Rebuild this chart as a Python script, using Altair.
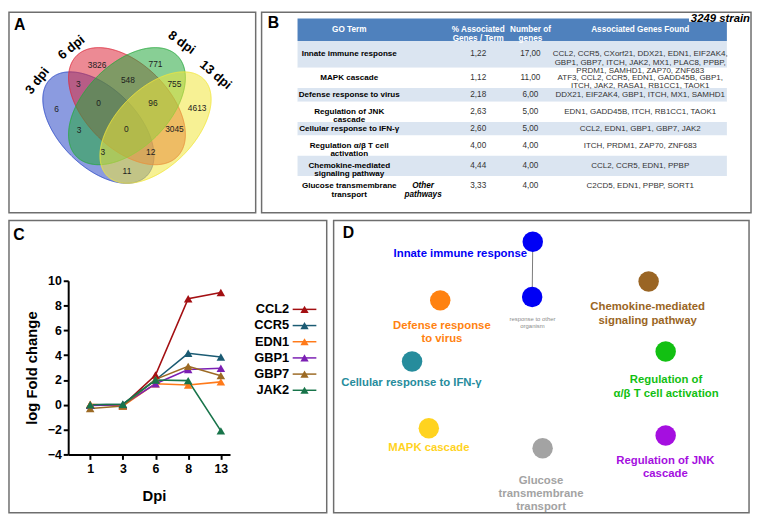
import altair as alt
import numpy as np
import pandas as pd

FONT = "Liberation Sans"
FRAME = "#6e6e6e"

# ---------------- A: Venn diagram ----------------
venn_sets = ["3 dpi", "6 dpi", "8 dpi", "13 dpi"]
venn_colors = ["#2c49c6", "#dc2a3c", "#27a83e", "#f1e63c"]
venn_counts = [3826, 771, 3, 548, 755, 6, 0, 96, 4613, 3, 0, 3045, 3, 12, 11]
# layout of the diagram (figure pixels)
ell_cx = [94.7, 124.0, 124.0, 153.3]
ell_cy = [120.9, 99.0, 99.0, 120.9]
ell_a = [70.0, 73.0, 73.0, 70.0]
ell_b = [40.0, 43.0, 43.0, 40.0]
ell_rot = [45.0, 45.0, -45.0, -45.0]
venn_lx = [93.3, 153.3, 74.0, 125.0, 172.7, 51.7, 95.0, 150.7, 196.0, 75.0, 123.3, 172.7, 99.3, 148.3, 124.0]
venn_ly = [56.7, 55.7, 76.7, 72.3, 76.0, 101.7, 95.7, 96.0, 101.0, 123.3, 122.7, 122.3, 145.7, 145.7, 165.7]
set_lx = [32, 67, 180, 215]
set_ly = [73, 39, 34, 67]
set_ang = [308, 321, 36, 40]

# ---------------- B: GO table ----------------
table_header = ["GO Term", "% Associated\nGenes / Term", "Number of\ngenes", "Associated Genes Found"]
go_terms = ["Innate immune response", "MAPK cascade", "Defense response to virus",
            "Regulation of JNK\ncascade", "Cellular response to IFN-γ",
            "Regulation α/β T cell\nactivation", "Chemokine-mediated\nsignaling pathway",
            "Glucose transmembrane\ntransport"]
go_pct = [1.22, 1.12, 2.18, 2.63, 2.60, 4.00, 4.44, 3.33]
go_n = [17, 11, 6, 5, 5, 4, 4, 4]
go_genes = ["CCL2, CCR5, CXorf21, DDX21, EDN1, EIF2AK4,\nGBP1, GBP7, ITCH, JAK2, MX1, PLAC8, PPBP,\nPRDM1, SAMHD1, ZAP70, ZNF683",
            "ATF3, CCL2, CCR5, EDN1, GADD45B, GBP1,\nITCH, JAK2, RASA1, RB1CC1, TAOK1",
            "DDX21, EIF2AK4, GBP1, ITCH, MX1, SAMHD1",
            "EDN1, GADD45B, ITCH, RB1CC1, TAOK1",
            "CCL2, EDN1, GBP1, GBP7, JAK2",
            "ITCH, PRDM1, ZAP70, ZNF683",
            "CCL2, CCR5, EDN1, PPBP",
            "C2CD5, EDN1, PPBP, SORT1"]
go_note = ["", "", "", "", "", "", "", "Other\npathways"]
strain_label = "3249 strain"

# ---------------- C: log fold change ----------------
dpi_labels = ["1", "3", "6", "8", "13"]
genes_c = ["CCL2", "CCR5", "EDN1", "GBP1", "GBP7", "JAK2"]
gene_colors = ["#a30f12", "#1b5b73", "#ff7a1a", "#7b1fb3", "#9c6a24", "#18744a"]
lfc_ccl2 = [0.0, -0.05, 2.4, 8.55, 9.05]
lfc_ccr5 = [0.0, 0.05, 2.0, 4.15, 3.85]
lfc_edn1 = [0.05, -0.1, 1.7, 1.6, 1.85]
lfc_gbp1 = [-0.05, 0.0, 1.7, 2.85, 2.95]
lfc_gbp7 = [-0.3, -0.1, 2.05, 3.1, 2.35]
lfc_jak2 = [0.0, 0.05, 2.0, 1.95, -2.1]
lfc_all = [lfc_ccl2, lfc_ccr5, lfc_edn1, lfc_gbp1, lfc_gbp7, lfc_jak2]

# ---------------- D: GO network ----------------
net_terms = ["Innate immune response", "response to other\norganism", "Defense response\nto virus",
             "Chemokine-mediated\nsignaling pathway", "Cellular response to IFN-γ",
             "Regulation of\nα/β T cell activation", "MAPK cascade",
             "Glucose\ntransmembrane\ntransport", "Regulation of JNK\ncascade"]
net_colors = ["#0000f5", "#0000f5", "#ff8210", "#9a6524", "#268c9c", "#12c012",
              "#ffd31f", "#a3a3a3", "#a50fe0"]
net_label_colors = ["#0000f5", "#8c8c8c", "#ff8210", "#9a6524", "#268c9c", "#12c012",
                    "#ffd31f", "#a3a3a3", "#a50fe0"]
node_x = [537.3, 536.7, 443.3, 655.0, 414.7, 672.3, 431.7, 547.3, 672.3]
node_y = [236.7, 293.3, 296.7, 277.3, 359.3, 349.0, 427.7, 448.0, 435.0]
label_x = [463.7, 537.0, 445.0, 654.0, 414.0, 672.7, 431.7, 545.7, 672.0]
label_y = [249.0, 315.7, 322.7, 304.0, 381.0, 378.7, 447.7, 481.5, 461.0]
net_edges = [(0, 1)]


# ================= helpers =================
def ellipse_df(cx, cy, a, b, rot, n=241):
    th = np.radians(rot)
    c, s = np.cos(th), np.sin(th)
    xmax = np.sqrt(a * a * c * c + b * b * s * s)
    t = np.linspace(0, np.pi, n)
    X = -xmax * np.cos(t)
    A_ = s * s / a ** 2 + c * c / b ** 2
    B_ = 2 * X * s * c * (1 / a ** 2 - 1 / b ** 2)
    C_ = X * X * (c * c / a ** 2 + s * s / b ** 2) - 1
    disc = np.clip(B_ * B_ - 4 * A_ * C_, 0, None)
    y1 = (-B_ - np.sqrt(disc)) / (2 * A_)
    y2 = (-B_ + np.sqrt(disc)) / (2 * A_)
    return pd.DataFrame({"x": cx + X, "y": cy + y1, "y2": cy + y2})


def indep(ch):
    return ch.resolve_scale(color="independent")


# ================= Panel A =================
sxA = alt.Scale(domain=[3, 256], nice=False, zero=False)
syA = alt.Scale(domain=[208, 3], nice=False, zero=False)
XA = lambda f: alt.X(f, scale=sxA, axis=None)
YA = lambda f: alt.Y(f, scale=syA, axis=None)

layersA = []
for i in range(4):
    df = ellipse_df(ell_cx[i], ell_cy[i], ell_a[i], ell_b[i], ell_rot[i])
    layersA.append(
        alt.Chart(df).mark_area(orient="vertical", fill=venn_colors[i], fillOpacity=0.55,
                                stroke=venn_colors[i], strokeWidth=1, strokeOpacity=0.9)
        .encode(x=XA("x:Q"), y=YA("y:Q"), y2=alt.Y2("y2:Q"))
    )
cnt_df = pd.DataFrame({"x": venn_lx, "y": venn_ly, "t": [str(v) for v in venn_counts]})
layersA.append(alt.Chart(cnt_df).mark_text(fontSize=8.5, color="#1e1e1e")
               .encode(x=XA("x:Q"), y=YA("y:Q"), text="t:N"))
set_df = pd.DataFrame({"x": set_lx, "y": set_ly, "t": venn_sets, "ang": set_ang})
layersA.append(alt.Chart(set_df).mark_text(fontSize=13, fontWeight="bold", color="black")
               .encode(x=XA("x:Q"), y=YA("y:Q"), text="t:N", angle=alt.Angle("ang:Q", scale=None)))
layersA.append(alt.Chart(pd.DataFrame({"x": [14], "y": [15.5], "t": ["A"]}))
               .mark_text(fontSize=16, fontWeight="bold", color="black")
               .encode(x=XA("x:Q"), y=YA("y:Q"), text="t:N"))
panelA = alt.layer(*layersA).properties(width=250, height=203)

# ================= Panel B =================
sxB = alt.Scale(domain=[261, 758], nice=False, zero=False)
syB = alt.Scale(domain=[208, 3], nice=False, zero=False)
XB = lambda f: alt.X(f, scale=sxB, axis=None)
YB = lambda f: alt.Y(f, scale=syB, axis=None)
col_x = [350, 481, 534, 645.5]
tx0, tx1 = 297.5, 733.5
hy0, hy1 = 9.3, 32.3

rows = []
y = hy1
for i in range(len(go_terms)):
    nl = max(go_terms[i].count("\n"), go_genes[i].count("\n")) + 1
    h = 7.3 + 6.7 * nl
    rows.append({"y0": y, "y1": y + h, "ym": y + h / 2, "fill": "#dbe5f1" if i % 2 == 0 else "#ffffff",
                 "term": go_terms[i], "pct": f"{go_pct[i]:.2f}".replace(".", ","),
                 "n": f"{go_n[i]:.2f}".replace(".", ","), "genes": go_genes[i], "note": go_note[i]})
    y += h
rows_df = pd.DataFrame(rows)
rows_df["x0"] = tx0
rows_df["x1"] = tx1

rect_df = pd.concat([pd.DataFrame({"x0": [tx0], "x1": [tx1], "y0": [hy0], "y1": [hy1], "fill": ["#4f81bd"]}),
                     rows_df[["x0", "x1", "y0", "y1", "fill"]],
                     pd.DataFrame({"x0": [695], "x1": [757], "y0": [3.8], "y1": [12.5], "fill": ["#ffffff"]})])
layersB = [alt.Chart(rect_df).mark_rect().encode(
    x=XB("x0:Q"), x2="x1:Q", y=YB("y0:Q"), y2="y1:Q", color=alt.Color("fill:N", scale=None))]
head_df = pd.DataFrame({"x": col_x, "y": [(hy0 + hy1) / 2] * 4, "t": table_header})
layersB.append(alt.Chart(head_df).mark_text(fontSize=8.3, fontWeight="bold", color="white",
                                            lineBreak="\n", lineHeight=9.3)
               .encode(x=XB("x:Q"), y=YB("y:Q"), text="t:N"))
layersB.append(alt.Chart(rows_df.assign(x=col_x[0])).mark_text(
    fontSize=8.2, fontWeight="bold", color="black", lineBreak="\n", lineHeight=8.7)
    .encode(x=XB("x:Q"), y=YB("ym:Q"), text="term:N"))
layersB.append(alt.Chart(rows_df.assign(x=col_x[1])).mark_text(fontSize=8.3, color="#333333")
               .encode(x=XB("x:Q"), y=YB("ym:Q"), text="pct:N"))
layersB.append(alt.Chart(rows_df.assign(x=col_x[2])).mark_text(fontSize=8.3, color="#333333")
               .encode(x=XB("x:Q"), y=YB("ym:Q"), text="n:N"))
layersB.append(alt.Chart(rows_df.assign(x=col_x[3])).mark_text(
    fontSize=8.1, color="#333333", lineBreak="\n", lineHeight=8.5)
    .encode(x=XB("x:Q"), y=YB("ym:Q"), text="genes:N"))
layersB.append(alt.Chart(rows_df[rows_df["note"] != ""].assign(x=425)).mark_text(
    fontSize=8.3, fontWeight="bold", fontStyle="italic", color="black", lineBreak="\n", lineHeight=9.3)
    .encode(x=XB("x:Q"), y=YB("ym:Q"), text="note:N"))
layersB.append(alt.Chart(pd.DataFrame({"x": [757], "y": [3.4], "t": [strain_label]}))
               .mark_text(fontSize=11.5, fontWeight="bold", fontStyle="italic", color="black",
                          align="right", baseline="top")
               .encode(x=XB("x:Q"), y=YB("y:Q"), text="t:N"))
layersB.append(alt.Chart(pd.DataFrame({"x": [273], "y": [13.5], "t": ["B"]}))
               .mark_text(fontSize=16, fontWeight="bold", color="black")
               .encode(x=XB("x:Q"), y=YB("y:Q"), text="t:N"))
panelB = alt.layer(*layersB).properties(width=496, height=203)

# ================= Panel C =================
# the view is the whole framed box; the graph sits inside it through scale ranges
c_rows = []
for g, vals in zip(genes_c, lfc_all):
    for d, v in zip(dpi_labels, vals):
        c_rows.append({"gene": g, "dpi": d, "lfc": v})
c_df = pd.DataFrame(c_rows)
leg_df = pd.DataFrame({"gene": genes_c})

C_W, C_H = 322, 296
GX0, GX1 = 60, 224      # graph area inside the box
GY0, GY1 = 61, 237

axis_common = dict(labelFontSize=12.5, labelFontWeight="bold", labelColor="black",
                   domainColor="black", domainWidth=2, tickColor="black", tickWidth=2,
                   tickSize=5, grid=False, titleFontSize=15, titleFontWeight="bold",
                   titleColor="black")
xC = alt.X("dpi:N", sort=dpi_labels,
           scale=alt.Scale(type="point", padding=0.477, align=0.706, range=[GX0, GX1]),
           axis=alt.Axis(title="Dpi", labelAngle=0, labelPadding=3, titlePadding=14,
                         titleX=147, offset=-(C_H - GY1), **axis_common))
yC = alt.Y("lfc:Q", scale=alt.Scale(domain=[-4, 10], nice=False, zero=False, range=[GY1, GY0]),
           axis=alt.Axis(title="log Fold change", values=[-4, -2, 0, 2, 4, 6, 8, 10],
                         labelPadding=2, titlePadding=8, offset=-GX0, **axis_common))
colC = alt.Color("gene:N", sort=genes_c, scale=alt.Scale(domain=genes_c, range=gene_colors),
                 legend=None)
linesC = alt.Chart(c_df).mark_line(strokeWidth=1.6).encode(x=xC, y=yC, color=colC)
ptsC = alt.Chart(c_df).mark_point(shape="triangle-up", filled=True, size=75, opacity=1).encode(
    x=xC, y=yC, color=colC)
dataC = alt.layer(linesC, ptsC)

# hand-made legend: label, then line with triangle, one row per gene
yLeg = alt.Y("gene:N", sort=genes_c, axis=None,
             scale=alt.Scale(type="point", range=[90, 172], padding=0))
legText = alt.Chart(leg_df).mark_text(fontSize=13, fontWeight="bold", color="black",
                                      align="right").encode(x=alt.value(284), y=yLeg, text="gene:N")
legRule = alt.Chart(leg_df).mark_rule(strokeWidth=1.5).encode(
    x=alt.value(287.5), x2=alt.value(311.5), y=yLeg, color=colC)
legPt = alt.Chart(leg_df).mark_point(shape="triangle-up", filled=True, size=70, opacity=1).encode(
    x=alt.value(299.5), y=yLeg, color=colC)
legendC = alt.layer(legText, legRule, legPt)

one = pd.DataFrame({"k": [0]})
labC = alt.Chart(one).mark_text(fontSize=16, fontWeight="bold", color="black").encode(
    x=alt.value(10), y=alt.value(15), text=alt.value("C"))
panelC = (alt.layer(dataC, legendC, labC)
          .resolve_scale(y="independent")
          .properties(width=C_W, height=C_H))

# ================= Panel D =================
sxD = alt.Scale(domain=[335, 757], nice=False, zero=False)
syD = alt.Scale(domain=[514, 215], nice=False, zero=False)
XD = lambda f: alt.X(f, scale=sxD, axis=None)
YD = lambda f: alt.Y(f, scale=syD, axis=None)
nodes_df = pd.DataFrame({"x": node_x, "y": node_y, "col": net_colors, "lx": label_x, "ly": label_y,
                         "t": net_terms, "lcol": net_label_colors})
edges_df = pd.DataFrame({"x": [node_x[a] for a, b in net_edges], "y": [node_y[a] for a, b in net_edges],
                         "x2": [node_x[b] for a, b in net_edges], "y2": [node_y[b] for a, b in net_edges]})
layersD = [
    alt.Chart(edges_df).mark_rule(color="#7a7a7a", strokeWidth=1).encode(
        x=XD("x:Q"), y=YD("y:Q"), x2="x2:Q", y2="y2:Q"),
    alt.Chart(nodes_df).mark_point(shape="circle", filled=True, size=430, opacity=1).encode(
        x=XD("x:Q"), y=YD("y:Q"), color=alt.Color("col:N", scale=None)),
    alt.Chart(nodes_df.drop(index=1)).mark_text(fontSize=11.5, fontWeight="bold", lineBreak="\n",
                                                 lineHeight=13.4).encode(
        x=XD("lx:Q"), y=YD("ly:Q"), text="t:N", color=alt.Color("lcol:N", scale=None)),
    alt.Chart(nodes_df.loc[[1]]).mark_text(fontSize=6, lineBreak="\n", lineHeight=7.5).encode(
        x=XD("lx:Q"), y=YD("ly:Q"), text="t:N", color=alt.Color("lcol:N", scale=None)),
    alt.Chart(pd.DataFrame({"x": [350], "y": [227.5], "t": ["D"]})).mark_text(
        fontSize=16, fontWeight="bold", color="black").encode(x=XD("x:Q"), y=YD("y:Q"), text="t:N"),
]
panelD = alt.layer(*layersD).properties(width=421, height=296)

top = indep(alt.hconcat(panelA, panelB, spacing=4))
bottom = indep(alt.hconcat(panelC, panelD, spacing=5))
chart = (indep(alt.vconcat(top, bottom, spacing=6))
         .properties(padding=0)
         .configure(font=FONT)
         .configure_view(stroke=FRAME, strokeWidth=1.5))

chart.save("out.html", embed_options={"renderer": "svg", "actions": False})
